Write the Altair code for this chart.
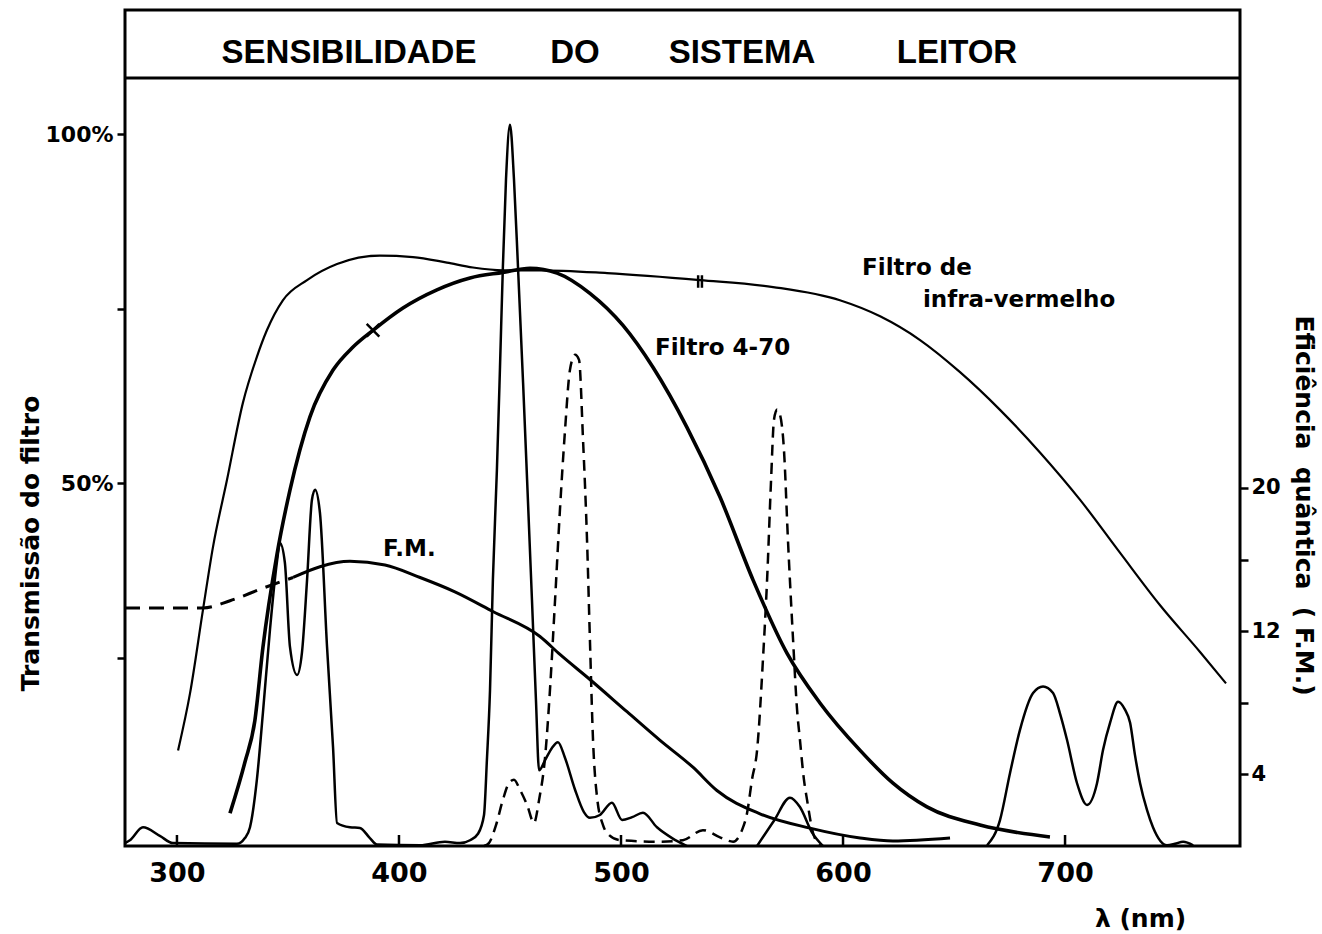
import altair as alt
import pandas as pd

# ---------------- data ----------------
# Filtro de infra-vermelho : transmissao (%)
ir_nm = [300.5, 305.9, 311.7, 316.2, 322.5, 329.7, 336.0, 340.5, 347.7, 358.6, 372.1, 391.4,
         406.3, 421.6, 433.3, 446.8, 463.5, 493.7, 535.6, 568.5, 598.6, 616.7, 634.7, 652.7,
         670.7, 688.7, 706.8, 724.8, 742.8, 760.8, 772.5]
ir_pct = [11.7, 19.9, 31.8, 40.8, 50.4, 61.5, 68.1, 71.9, 76.2, 79.1, 81.4, 82.6,
          82.4, 81.6, 80.9, 80.5, 80.5, 80.1, 79.1, 78.1, 76.2, 73.9, 70.5, 65.9,
          60.5, 54.4, 47.6, 40.0, 32.5, 25.8, 21.3]

# Filtro 4-70 : transmissao (%)
f470_nm = [323.9, 330.6, 335.1, 338.7, 345.0, 350.9, 359.9, 370.3, 379.3, 388.3, 401.8, 417.1,
           432.0, 446.8, 459.0, 471.2, 486.0, 500.9, 514.4, 529.7, 544.6, 559.5, 574.8, 589.6,
           607.7, 622.5, 637.8, 661.7, 693.2]
f470_pct = [2.7, 10.0, 16.0, 26.4, 39.7, 49.0, 59.5, 66.2, 69.5, 71.9, 75.1, 77.7,
            79.4, 80.2, 80.8, 80.1, 77.2, 72.6, 66.6, 58.0, 48.0, 36.1, 25.6, 18.5,
            11.7, 7.0, 3.6, 1.0, -0.7]

# F.M. : eficiencia quantica (eixo da direita)
fm_dash_nm = [276.6, 311.7, 323.9, 338.7, 352.3]
fm_dash_val = [13.3, 13.3, 13.7, 14.4, 15.0]
fm_nm = [352.3, 364.4, 377.9, 393.7, 409.5, 425.2, 442.3, 463.5, 472.5, 486.0, 502.7, 517.6,
         532.4, 543.2, 562.6, 585.1, 607.7, 622.5, 648.2]
fm_val = [15.0, 15.6, 15.9, 15.7, 15.0, 14.2, 13.1, 11.7, 10.7, 9.3, 7.5, 5.9,
          4.4, 3.1, 1.8, 1.0, 0.45, 0.28, 0.45]

# Espectros de emissao (intensidade relativa, pico maximo = 100)
em1_nm = [276.6, 278.8, 284.7, 292.3, 298.2, 327.0, 330.6, 332.9, 336.0, 338.7, 341.9, 345.0,
          346.4, 348.6, 350.9, 354.1, 356.3, 358.6, 360.8, 362.2, 364.4, 367.6, 370.3, 372.1,
          377.9, 382.4, 386.9, 390.1, 409.5, 420.7, 427.5, 432.0, 435.6, 438.3, 439.6, 441.0,
          442.3, 444.1, 445.5, 446.8, 448.2, 450.0, 451.8, 453.6, 455.9, 457.7, 459.9, 461.7,
          463.1, 465.8, 468.9, 471.6, 474.8, 479.3, 483.3, 486.0, 490.5, 495.9, 500.5, 505.0,
          509.9, 516.2, 523.0, 529.7]
em1_val = [0.4, 0.8, 2.6, 1.4, 0.4, 0.3, 1.1, 2.6, 9.2, 18.4, 30.0, 39.3,
           42.0, 39.3, 27.6, 23.7, 26.8, 36.9, 48.0, 49.4, 46.2, 27.6, 13.7, 3.2,
           2.6, 2.5, 1.1, 0.2, 0.1, 0.6, 0.4, 0.8, 1.7, 4.3, 11.9, 21.6,
           36.9, 52.1, 66.4, 80.3, 92.4, 100.0, 92.4, 80.3, 64.2, 50.8, 34.1, 20.2,
           10.5, 11.9, 13.6, 14.4, 12.2, 7.8, 4.7, 3.9, 4.3, 6.0, 3.6, 4.0,
           4.6, 2.6, 1.1, 0.0]

em2_nm = [438.3, 440.5, 443.7, 446.8, 449.5, 451.8, 454.5, 457.7, 460.8, 463.1, 465.8, 468.0,
          470.3, 472.5, 474.8, 477.0, 479.3, 481.1, 482.9, 484.7, 486.0, 487.4, 489.2, 491.9,
          493.7, 499.5, 517.6, 527.9, 536.9, 544.6, 550.5, 554.5, 556.8, 559.0, 561.3, 564.0,
          565.8, 567.6, 568.9, 570.3, 571.6, 573.4, 575.2, 577.5, 579.3, 580.6, 582.4, 583.8,
          586.5, 589.6]
em2_val = [0.0, 0.4, 2.9, 6.4, 8.7, 9.2, 7.8, 5.7, 3.2, 6.4, 12.3, 21.6,
           34.1, 46.6, 57.7, 66.0, 68.1, 67.4, 56.3, 42.4, 28.6, 14.7, 6.8, 2.9,
           1.8, 0.8, 0.6, 0.8, 2.2, 1.2, 0.6, 2.2, 4.6, 9.2, 13.3, 26.2,
           36.9, 50.8, 59.1, 60.5, 59.8, 54.9, 42.4, 28.6, 18.9, 14.7, 9.2, 6.4,
           1.8, 0.1]

em3_nm = [561.3, 568.9, 576.1, 580.6, 586.0, 591.0]
em3_val = [0.0, 3.5, 6.7, 5.4, 1.9, 0.0]

em4_nm = [664.9, 670.7, 675.2, 679.7, 685.6, 690.1, 694.6, 697.7, 700.9, 705.4, 709.9, 714.4,
          717.1, 720.3, 723.9, 727.0, 729.3, 731.5, 733.8, 736.9, 739.6, 745.9, 749.5, 753.2,
          757.7]
em4_val = [0.1, 3.6, 10.1, 16.1, 21.2, 22.1, 21.2, 18.4, 14.7, 8.7, 5.7, 8.7,
           13.3, 17.1, 20.0, 18.9, 17.1, 12.6, 8.7, 5.0, 2.6, 0.1, 0.3, 0.6,
           0.1]

# labels written inside the plot
ann_text = ["Filtro de", "infra-vermelho", "Filtro 4-70", "F.M."]
ann_nm = [608.6, 636.0, 515.3, 392.8]
ann_pct = [80.8, 76.2, 69.3, 40.5]

# small marks drawn on the filter curves
mark_x_nm = [388.3]
mark_x_pct = [71.9]
mark_bar_nm = [535.6]
mark_bar_pct = [78.9]

title_words = ["SENSIBILIDADE", "DO", "SISTEMA", "LEITOR"]
x_ticks = [300, 400, 500, 600, 700]

# ---------------- chart ----------------
W, H = 1115, 836
FONT = "DejaVu Sans"


def df(nm, val, name="v"):
    return pd.DataFrame({"nm": nm, name: val})


X = alt.X(
    "nm:Q",
    scale=alt.Scale(domain=[276.6, 778.8], nice=False, zero=False),
    axis=alt.Axis(
        values=x_ticks, format="d", title="λ (nm)", ticks=False, labelPadding=14,
        labelFontSize=27, titleFontSize=25, titleX=1015, titleY=72,
        titleAlign="center", titleBaseline="middle", domain=False, grid=False,
    ),
)

Y_left = alt.Y(
    "v:Q",
    scale=alt.Scale(domain=[-2.0, 117.8], nice=False, zero=False),
    axis=alt.Axis(
        values=[25, 50, 75, 100], orient="left",
        labelExpr="datum.value == 50 || datum.value == 100 ? datum.value + '%' : ''",
        title="Transmissão do filtro", titleAngle=270, titleX=-95, titleY=533,
        titleAlign="center", titleBaseline="middle", titleFontSize=25,
        tickSize=8, tickWidth=2.5, labelPadding=4, labelFontSize=22,
        domain=False, grid=False,
    ),
)

Y_right = alt.Y(
    "fm:Q",
    scale=alt.Scale(domain=[0, 46.7], nice=False, zero=False),
    axis=alt.Axis(
        values=[4, 8, 12, 16, 20], orient="right",
        labelExpr="datum.value == 4 || datum.value == 12 || datum.value == 20 ? datum.value : ''",
        title="Eficiência\u00a0\u00a0quântica\u00a0\u00a0(\u00a0F.M.)", titleAngle=90,
        titleX=63, titleY=495, titleAlign="center", titleBaseline="middle", titleFontSize=25,
        tickSize=8, tickWidth=2.5, labelPadding=3, labelFontSize=21,
        domain=False, grid=False,
    ),
)

Y_em = alt.Y("e:Q", scale=alt.Scale(domain=[0, 115.9], nice=False, zero=False), axis=None)

# --- filter layer (left axis) ---
ir_line = alt.Chart(df(ir_nm, ir_pct)).mark_line(
    color="black", strokeWidth=2.2, interpolate="monotone").encode(x=X, y=Y_left)
f470_line = alt.Chart(df(f470_nm, f470_pct)).mark_line(
    color="black", strokeWidth=3.6, interpolate="monotone").encode(x=X, y=Y_left)

ann = alt.Chart(pd.DataFrame({"nm": ann_nm, "v": ann_pct, "t": ann_text})).mark_text(
    align="left", baseline="middle", font=FONT, fontWeight="bold", fontSize=23, color="black"
).encode(x=X, y=Y_left, text="t:N")

mk_x = alt.Chart(df(mark_x_nm, mark_x_pct)).mark_point(
    shape="M-1,-1L1,1M-1,1L1,-1", size=160, filled=False, stroke="black", strokeWidth=2.5, opacity=1
).encode(x=X, y=Y_left)
mk_bar = alt.Chart(df(mark_bar_nm, mark_bar_pct)).mark_point(
    shape="M-0.3,-1L-0.3,1M0.3,-1L0.3,1", size=160, filled=False, stroke="black",
    strokeWidth=2.5, opacity=1
).encode(x=X, y=Y_left)

# inward ticks on the wavelength axis
xticks = alt.Chart(pd.DataFrame({"nm": x_ticks})).mark_rule(
    color="black", strokeWidth=2.5).encode(x=X, y=alt.value(H - 11), y2=alt.value(H))

# title box
title_rule = alt.Chart(pd.DataFrame({"a": [0]})).mark_rule(
    color="black", strokeWidth=3).encode(x=alt.value(0), x2=alt.value(W), y=alt.value(68))
title_x = [224, 450, 617, 832]
title_layers = [
    alt.Chart(pd.DataFrame({"t": [w]})).mark_text(
        font="Liberation Sans", fontWeight="bold", fontSize=33, color="black",
        align="center", baseline="middle"
    ).encode(text="t:N", x=alt.value(px), y=alt.value(43))
    for w, px in zip(title_words, title_x)
]

left_layer = alt.layer(ir_line, f470_line, ann, mk_x, mk_bar, xticks, title_rule, *title_layers)

# --- F.M. layer (right axis) ---
fm_dash = alt.Chart(df(fm_dash_nm, fm_dash_val, "fm")).mark_line(
    color="black", strokeWidth=3, strokeDash=[15, 9], interpolate="monotone").encode(x=X, y=Y_right)
fm_line = alt.Chart(df(fm_nm, fm_val, "fm")).mark_line(
    color="black", strokeWidth=3, interpolate="monotone").encode(x=X, y=Y_right)
fm_layer = alt.layer(fm_line, fm_dash)

# --- emission spectra (relative) ---
em_solid = pd.concat([
    df(em1_nm, em1_val, "e").assign(s="a"),
    df(em3_nm, em3_val, "e").assign(s="c"),
    df(em4_nm, em4_val, "e").assign(s="d"),
])
em_solid_line = alt.Chart(em_solid).mark_line(
    color="black", strokeWidth=2.5, interpolate="monotone").encode(x=X, y=Y_em, detail="s:N")
em_dash_line = alt.Chart(df(em2_nm, em2_val, "e")).mark_line(
    color="black", strokeWidth=2.5, strokeDash=[11, 7], interpolate="monotone").encode(x=X, y=Y_em)
em_layer = alt.layer(em_solid_line, em_dash_line)

chart = alt.layer(left_layer, fm_layer, em_layer).resolve_scale(y="independent").properties(
    width=W, height=H,
    autosize=alt.AutoSizeParams(type="none"),
    padding={"left": 125, "top": 10, "right": 82, "bottom": 88},
    background="white",
).configure_view(
    stroke="black", strokeWidth=3
).configure_axis(
    labelFont=FONT, labelFontWeight="bold", titleFont=FONT, titleFontWeight="bold",
    labelColor="black", titleColor="black", tickColor="black",
)

chart.save("out.html", embed_options={"renderer": "svg", "actions": False})
